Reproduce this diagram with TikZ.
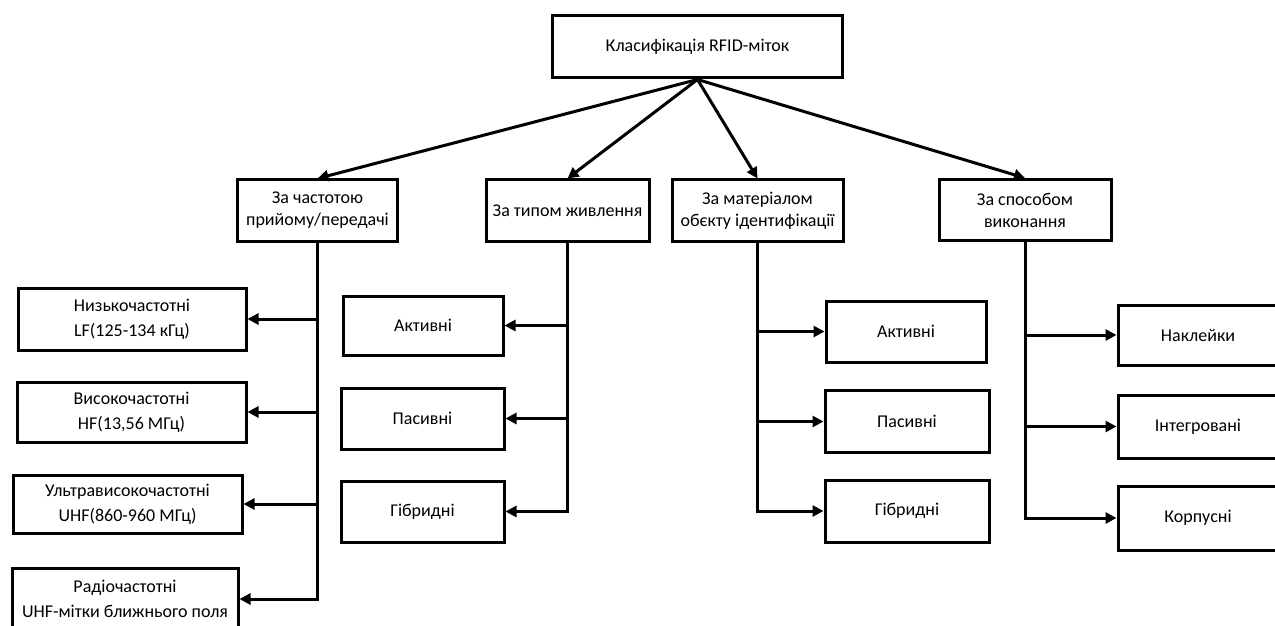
\documentclass[tikz,border=0pt]{standalone}
\usepackage{fontspec}
\setmainfont{Carlito}
\usetikzlibrary{arrows.meta}

\begin{document}
\begin{tikzpicture}[x=0.5pt,y=-0.5pt,
	box/.style={draw, line width=1.5pt, align=center, inner sep=0pt,
		font=\fontsize{9}{12.5}\selectfont},
	crit/.style={box, minimum height=30.5pt, font=\fontsize{9}{11}\selectfont},
	arr/.style={line width=1.5pt, -{Triangle[length=5.5pt,width=5.5pt]}}]
	\useasboundingbox (0,0) rectangle (1275,626);

	% root
	\node[box, minimum width=145pt, minimum height=31pt] (root) at (697.5,47) {Класифікація RFID-міток};

	% criteria
	\node[crit, minimum width=80pt] (freq) at (317.5,210.5) {За частотою\\прийому/передачі};
	\node[crit, minimum width=81.5pt] (power) at (567.5,210.5) {За типом живлення};
	\node[crit, minimum width=85.5pt] (mat) at (757.5,210.5) {За матеріалом\\обєкту ідентифікації};
	\node[crit, minimum width=86pt] (make) at (1025,210) {За способом\\виконання};

	% frequency
	\node[box, minimum width=114pt, minimum height=31pt] (lf) at (132,319) {Низькочастотні\\LF(125-134 кГц)};
	\node[box, minimum width=114.5pt, minimum height=30pt] (hf) at (131.5,412) {Високочастотні\\HF(13,56 МГц)};
	\node[box, minimum width=114.5pt, minimum height=29pt] (uhf) at (127.5,504) {Ультрависокочастотні\\UHF(860-960 МГц)};
	\node[box, minimum width=113pt, minimum height=31pt] (rad) at (125,599) {Радіочастотні\\UHF-мітки ближнього поля};

	% power
	\node[box, minimum width=80pt, minimum height=29.5pt] (pact) at (423,325.5) {Активні};
	\node[box, minimum width=81.5pt, minimum height=30.5pt] (ppas) at (422.5,418.5) {Пасивні};
	\node[box, minimum width=81.5pt, minimum height=30.5pt] (phyb) at (422.5,511.5) {Гібридні};

	% material
	\node[box, minimum width=80pt, minimum height=30.5pt] (mact) at (906,331.5) {Активні};
	\node[box, minimum width=82pt, minimum height=31pt] (mpas) at (907,421.5) {Пасивні};
	\node[box, minimum width=82pt, minimum height=31pt] (mhyb) at (907,511) {Гібридні};

	% make
	\node[box, minimum width=80pt, minimum height=30pt] (stick) at (1198,335) {Наклейки};
	\node[box, minimum width=80pt, minimum height=31.5pt] (integ) at (1198,426.5) {Інтегровані};
	\node[box, minimum width=80pt, minimum height=32pt] (case) at (1198,518) {Корпусні};

	\foreach \crit in {freq,power,mat,make}
		\draw[arr] (root.south) -- (\crit.north);

	\foreach \leaf in {lf,hf,uhf,rad}
		\draw[arr] (freq.south) |- (\leaf.east);
	\foreach \leaf in {pact,ppas,phyb}
		\draw[arr] (power.south) |- (\leaf.east);
	\foreach \leaf in {mact,mpas,mhyb}
		\draw[arr] (mat.south) |- (\leaf.west);
	\foreach \leaf in {stick,integ,case}
		\draw[arr] (make.south) |- (\leaf.west);
\end{tikzpicture}
\end{document}
